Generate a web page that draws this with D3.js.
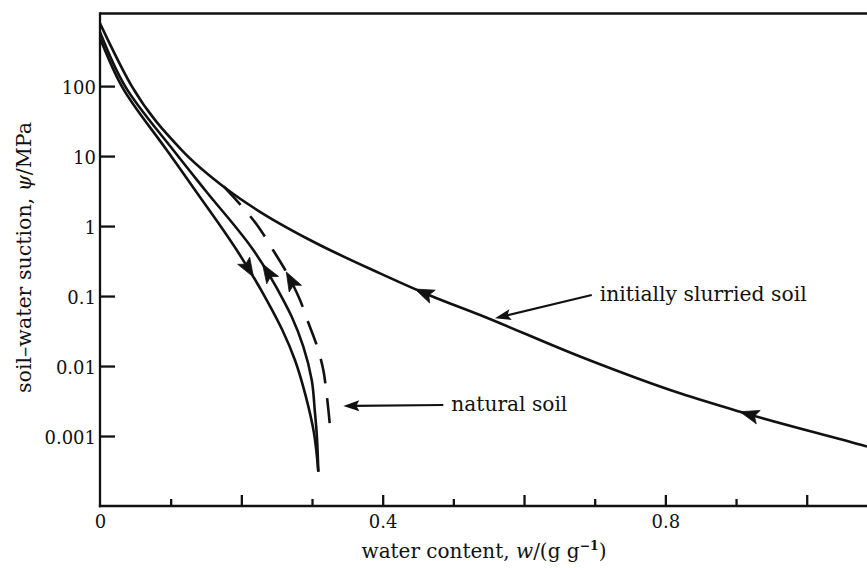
<!DOCTYPE html>
<html><head><meta charset="utf-8">
<script src="https://cdn.jsdelivr.net/npm/d3@7"></script>
<style>
html,body{margin:0;padding:0;background:#fff;}
svg{display:block;}
text{font-family:"DejaVu Serif",serif;fill:#111;}
</style>
</head><body>
<svg id="c" width="867" height="568"></svg>
<script>
// ---------- data ----------
const xMinorTicks = [0.1, 0.3, 0.5, 0.7, 0.9];
const xMajorTicks = [0.2, 0.4, 0.6, 0.8, 1.0];
const xTickLabels = [0, 0.4, 0.8];
const yTicks = [100, 10, 1, 0.1, 0.01, 0.001];
const yTickLabels = ["100", "10", "1", "0.1", "0.01", "0.001"];

// initially slurried soil (solid)
const slurriedW   = [0, 0.0449, 0.1156, 0.1811, 0.2264, 0.2971, 0.3962, 0.4669, 0.5377, 0.6792, 0.8207, 0.9056, 1.0778, 1.0853];
const slurriedPsi = [789, 100, 12.2, 3.28, 1.60, 0.632, 0.211, 0.102, 0.0536, 0.01367, 0.00407, 0.00222, 0.000743, 0.000708];

// natural soil, drying (solid, left)
const dryingW   = [0, 0.0307, 0.0944, 0.1344, 0.1934, 0.2359, 0.2580, 0.2758, 0.2915, 0.3028, 0.3089];
const dryingPsi = [487, 100, 12.2, 3.28, 0.455, 0.0877, 0.0327, 0.01222, 0.0036, 0.0011, 0.000309];

// natural soil, wetting (solid, middle)
const wettingW   = [0, 0.0354, 0.1036, 0.1486, 0.2169, 0.2594, 0.2713, 0.2877, 0.2996, 0.3042, 0.3066, 0.3089];
const wettingPsi = [593, 100, 12.2, 3.28, 0.455, 0.0877, 0.0507, 0.0189, 0.0063, 0.00213, 0.0011, 0.000309];

// natural soil, wetting from slurried curve (dashed)
const dashedW   = [0.175, 0.224, 0.2448, 0.2642, 0.2830, 0.2943, 0.3089, 0.316, 0.3208, 0.3255];
const dashedPsi = [3.7, 0.979, 0.455, 0.2156, 0.0877, 0.043, 0.0169, 0.00877, 0.00386, 0.00136];

// arrowheads on curves: series, locate by psi or w, direction (+1 along data order, -1 against)
const arrowSeries = ["drying", "wetting", "dashed", "slurried", "slurried"];
const arrowBy     = ["psi", "psi", "psi", "w", "w"];
const arrowAt     = [0.187, 0.287, 0.221, 0.4457, 0.9056];
const arrowDir    = [1, -1, -1, -1, -1];

// annotations
const annotTexts = ["initially slurried soil", "natural soil"];
const annotTailW = [0.6958, 0.4858];
const annotTailPsi = [0.1035, 0.00277];
const annotTipW = [0.5589, 0.3443];
const annotTipPsi = [0.0481, 0.00269];
const annotWidths = [207, 116];

// ---------- drawing ----------
const svg = d3.select("#c");
const x = d3.scaleLinear().domain([0, 1.0853]).range([100, 867]);
const y = d3.scaleLog().domain([1e-4, 1090]).range([506, 13.5]);
const ink = "#111";

// top frame line
svg.append("line").attr("x1", x(0)).attr("x2", x(1.0853)).attr("y1", y(1090)).attr("y2", y(1090))
  .attr("stroke", ink).attr("stroke-width", 2.3);

// x axis minor / major ticks
const gxMinor = svg.append("g").attr("transform", `translate(0,${y(1e-4)})`)
  .call(d3.axisBottom(x).tickValues(xMinorTicks).tickSize(-7).tickFormat(""));
const gxMajor = svg.append("g").attr("transform", `translate(0,${y(1e-4)})`)
  .call(d3.axisBottom(x).tickValues(xMajorTicks).tickSize(-11).tickFormat(""));
const gxLab = svg.append("g").attr("transform", `translate(0,${y(1e-4)})`)
  .call(d3.axisBottom(x).tickValues(xTickLabels).tickSize(0).tickPadding(9).tickFormat(d => d === 0 ? "0" : d3.format(".1f")(d)));
[gxMinor, gxMajor, gxLab].forEach(g => {
  g.select(".domain").remove();
  g.selectAll(".tick line").attr("stroke", ink).attr("stroke-width", 2.3);
  g.selectAll("text").style("font-family", '"DejaVu Serif",serif').style("font-size", "18px").attr("fill", ink);
});

// y axis
const gy = svg.append("g").attr("transform", `translate(${x(0)},0)`)
  .call(d3.axisLeft(y).tickValues(yTicks).tickSize(-15).tickPadding(4)
    .tickFormat(d => yTickLabels[yTicks.indexOf(d)]));
gy.select(".domain").remove();
gy.selectAll(".tick line").attr("stroke", ink).attr("stroke-width", 2.3);
gy.selectAll("text").style("font-family", '"DejaVu Serif",serif').style("font-size", "18px").attr("fill", ink).attr("dy", "0.42em");

// axis lines
svg.append("line").attr("x1", x(0)).attr("x2", x(0)).attr("y1", y(1090)).attr("y2", y(1e-4))
  .attr("stroke", ink).attr("stroke-width", 2.3).attr("stroke-linecap", "square");
svg.append("line").attr("x1", x(0)).attr("x2", x(1.0853)).attr("y1", y(1e-4)).attr("y2", y(1e-4))
  .attr("stroke", ink).attr("stroke-width", 2.3).attr("stroke-linecap", "square");

// curves
const lineX = d3.line().x(d => x(d[0])).y(d => y(d[1])).curve(d3.curveMonotoneX);
const lineY = d3.line().x(d => x(d[0])).y(d => y(d[1])).curve(d3.curveMonotoneY);
const zip = (a, b) => a.map((v, i) => [v, b[i]]);
const series = {
  slurried: zip(slurriedW, slurriedPsi),
  drying: zip(dryingW, dryingPsi),
  wetting: zip(wettingW, wettingPsi),
  dashed: zip(dashedW, dashedPsi)
};
const paths = {};
for (const k of Object.keys(series)) {
  const gen = k === "slurried" ? lineX : lineY;
  paths[k] = svg.append("path").attr("d", gen(series[k])).attr("fill", "none")
    .attr("stroke", ink).attr("stroke-width", 2.6)
    .attr("stroke-dasharray", k === "dashed" ? "25,15" : null).node();
}

function arrowHead(tip, ang, L, H, N) {
  const ux = Math.cos(ang), uy = Math.sin(ang), nx = -uy, ny = ux;
  const bx = tip.x - L * ux, by = tip.y - L * uy;
  const mx = tip.x - (L - N) * ux, my = tip.y - (L - N) * uy;
  return `M${tip.x},${tip.y}L${bx + H * nx},${by + H * ny}L${mx},${my}L${bx - H * nx},${by - H * ny}Z`;
}

function locate(node, coord, target) {
  const total = node.getTotalLength();
  let lo = 0, hi = total;
  const inc = node.getPointAtLength(total)[coord] > node.getPointAtLength(0)[coord];
  for (let i = 0; i < 40; i++) {
    const mid = (lo + hi) / 2;
    const v = node.getPointAtLength(mid)[coord];
    if ((v < target) === inc) lo = mid; else hi = mid;
  }
  return (lo + hi) / 2;
}

arrowSeries.forEach((s, i) => {
  const node = paths[s];
  const target = arrowBy[i] === "psi" ? y(arrowAt[i]) : x(arrowAt[i]);
  const len = locate(node, arrowBy[i] === "psi" ? "y" : "x", target);
  const p = node.getPointAtLength(len);
  const q = node.getPointAtLength(len - arrowDir[i] * 6);
  const ang = Math.atan2(p.y - q.y, p.x - q.x);
  svg.append("path").attr("d", arrowHead(p, ang, 19, 7, 4)).attr("fill", ink).attr("stroke", ink).attr("stroke-width", 0.8);
});

// annotations
annotTexts.forEach((t, i) => {
  const tx = x(annotTailW[i]), ty = y(annotTailPsi[i]);
  const px = x(annotTipW[i]), py = y(annotTipPsi[i]);
  const ang = Math.atan2(py - ty, px - tx);
  svg.append("line").attr("x1", tx).attr("y1", ty)
    .attr("x2", px - 10 * Math.cos(ang)).attr("y2", py - 10 * Math.sin(ang))
    .attr("stroke", ink).attr("stroke-width", 2.1);
  svg.append("path").attr("d", arrowHead({x: px, y: py}, ang, 16, 5.5, 3)).attr("fill", ink);
  const txt = svg.append("text").attr("x", tx + 8).attr("y", ty + 6).style("font-size", "20px").text(t);
  const w = txt.node().getComputedTextLength();
  txt.style("font-size", (20 * annotWidths[i] / w).toFixed(2) + "px");
});

// axis titles
const xt = svg.append("text").attr("x", 484).attr("y", 558).attr("text-anchor", "middle").style("font-size", "20px");
xt.append("tspan").text("water content, ");
xt.append("tspan").attr("font-style", "italic").text("w");
xt.append("tspan").text("/(g g");
xt.append("tspan").attr("dy", -8).style("font-size", "0.62em").attr("font-weight", "bold").text("\u22121");
xt.append("tspan").attr("dy", 8).text(")");
{
  const w = xt.node().getComputedTextLength();
  xt.style("font-size", (20 * 245 / w).toFixed(2) + "px");
}

const yt = svg.append("text").attr("transform", "translate(31,257.5) rotate(-90)").attr("text-anchor", "middle").style("font-size", "20px");
yt.append("tspan").text("soil\u2013water suction, ");
yt.append("tspan").attr("font-style", "italic").text("\u03C8");
yt.append("tspan").text("/MPa");
{
  const w = yt.node().getComputedTextLength();
  yt.style("font-size", (20 * 271 / w).toFixed(2) + "px");
}
</script>
</body></html>
